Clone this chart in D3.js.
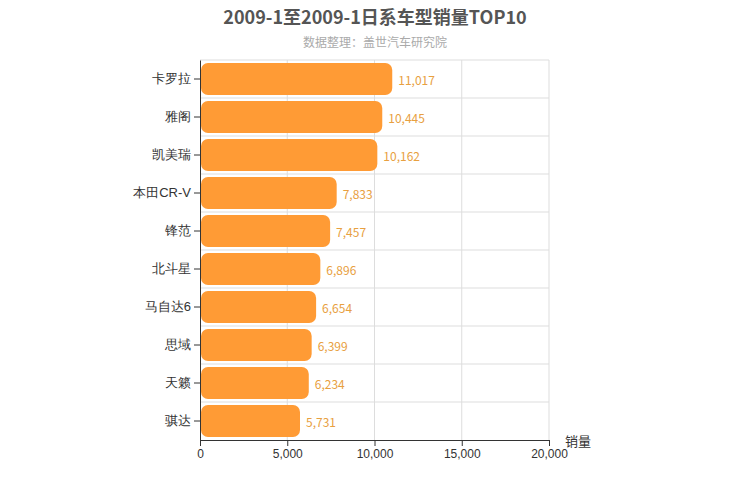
<!DOCTYPE html>
<html><head><meta charset="utf-8">
<script src="https://cdn.jsdelivr.net/npm/d3@7"></script>
<style>body{margin:0;background:#fff;font-family:"Noto Sans CJK SC","Noto Sans",sans-serif;}</style>
</head><body><svg id="chart" width="750" height="500"></svg>
<script>
const categories = ["卡罗拉","雅阁","凯美瑞","本田CR-V","锋范","北斗星","马自达6","思域","天籁","骐达"];
const sales = [11017,10445,10162,7833,7457,6896,6654,6399,6234,5731];
const xTicks = [0,5000,10000,15000,20000];

const svg = d3.select("#chart");
const m = {left:200, right:549, top:60, bottom:440};
const x = d3.scaleLinear().domain([0,20000]).range([m.left,m.right]);
const y = d3.scaleBand().domain(categories).range([m.top,m.bottom]);

svg.append("text").attr("x",375).attr("y",24).attr("text-anchor","middle")
  .attr("font-size",18).attr("font-weight","bold").attr("fill","#555").text("2009-1至2009-1日系车型销量TOP10");
svg.append("text").attr("x",375).attr("y",47).attr("text-anchor","middle")
  .attr("font-size",12).attr("fill","#aaa").text("数据整理：盖世汽车研究院");

const grid = svg.append("g").attr("stroke","#ddd");
xTicks.slice(1).forEach(t => grid.append("line").attr("x1",x(t)).attr("x2",x(t)).attr("y1",m.top).attr("y2",m.bottom));
categories.forEach(c => grid.append("line").attr("x1",m.left).attr("x2",m.right).attr("y1",y(c)).attr("y2",y(c)));

svg.append("g").attr("transform",`translate(0,${m.bottom})`)
  .call(d3.axisBottom(x).tickValues(xTicks).tickFormat(d3.format(",")).tickSizeOuter(0))
  .call(g => { g.selectAll("text").attr("font-size",12).attr("fill","#333"); g.select(".domain").attr("stroke","#333"); g.selectAll("line").attr("stroke","#333"); });
svg.append("g").attr("transform",`translate(${m.left},0)`)
  .call(d3.axisLeft(y).tickSizeOuter(0))
  .call(g => { g.selectAll("text").attr("font-size",13).attr("fill","#333"); g.select(".domain").attr("stroke","#333"); g.selectAll("line").attr("stroke","#333"); });

svg.append("text").attr("x",565).attr("y",446).attr("font-size",13).attr("fill","#333").text("销量");

const bh = 32;
svg.selectAll(".bar").data(sales).join("rect")
  .attr("x",m.left+1).attr("y",(d,i)=>y(categories[i])+(y.bandwidth()-bh)/2)
  .attr("width",d=>x(d)-m.left-1).attr("height",bh).attr("rx",7)
  .attr("fill","#ff9b35");
svg.selectAll(".lbl").data(sales).join("text")
  .attr("x",d=>x(d)+6).attr("y",(d,i)=>y(categories[i])+y.bandwidth()/2+6)
  .attr("font-size",12).attr("fill","#e8a040").text(d=>d3.format(",")(d));
</script></body></html>
